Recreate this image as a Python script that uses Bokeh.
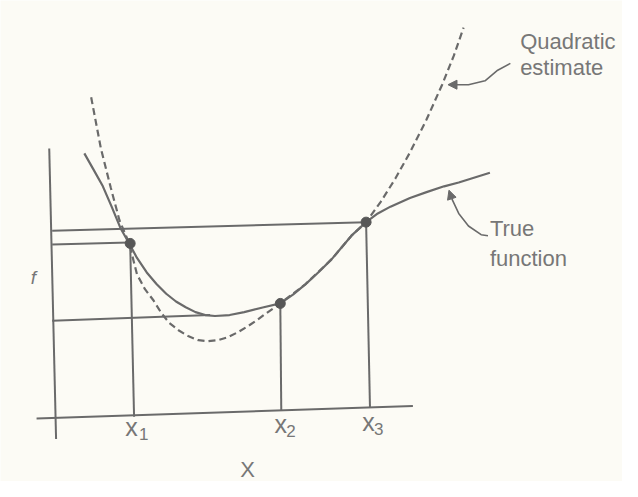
from bokeh.plotting import figure
from bokeh.models import Range1d, ColumnDataSource, Arrow, NormalHead
from bokeh.core.properties import value
from bokeh.embed import file_html
from bokeh.resources import INLINE

# ---- data (reference pixel units, y downward) ----
true_x = [86, 95, 105, 114, 123, 132, 140, 150, 160, 170, 180, 190, 200, 210, 220, 235, 250, 270, 287, 300, 313, 327, 340, 350, 360, 375, 387, 400, 420, 437, 455, 470, 502]
true_f = [158, 174, 192, 213, 235, 251, 266, 281, 293, 303, 311, 317, 322, 325, 326, 325, 322, 317, 313, 304, 293, 280, 267, 255, 243, 229, 220, 213, 204, 198, 192, 188, 178]

quad_x = [93, 103, 113, 122, 132, 140, 148, 157, 165, 173, 183, 193, 203, 213, 223, 233, 243, 253, 262, 270, 287, 313, 340, 360, 375, 390, 405, 420, 437, 453, 465, 475]
quad_f = [100, 153, 193, 227, 251, 283, 298, 310, 323, 333, 341, 347, 351, 352, 351, 348, 343, 337, 331, 325, 313, 293, 267, 243, 229, 208, 184, 157, 123, 87, 57, 28]

pts_x = [133, 287, 375]
pts_f = [251, 313, 229]

axis_xs = [[50, 57], [37, 423]]
axis_ys = [[153, 453], [432, 419]]

guide_xs = [[53, 375], [53, 132], [53, 215], [133, 137], [287, 288], [375, 379]]
guide_ys = [[238, 229], [252, 250], [331, 325], [251, 430], [313, 424], [229, 421]]

quad_arrow_x = [523, 510, 497, 480, 466]
quad_arrow_y = [65, 72, 83, 87, 87]
true_arrow_x = [500, 493, 480, 470, 463]
true_arrow_y = [243, 242, 233, 220, 205]

label_text = ["Quadratic", "estimate", "True", "function"]
label_x = [533, 533, 502, 502]
label_y = [51, 78, 245, 276]

tick_text = ["x", "x", "x"]
tick_x = [128, 281, 371]
tick_y = [450, 447, 445]
sub_text = ["1", "2", "3"]
sub_x = [142, 293, 383]
sub_y = [455, 452, 450]

LINE = "#6a6a6a"
TXT = "#777777"
BG = "#fcfbf5"
FONT = value("Liberation Sans")
DY = 9  # svg text sits lower than its alphabetic anchor; lift it

p = figure(width=622, height=481, output_backend="svg", toolbar_location=None,
           x_range=Range1d(0, 638), y_range=Range1d(497, 0), min_border=0)
p.axis.visible = False
p.grid.visible = False
p.outline_line_color = None
p.background_fill_color = BG
p.border_fill_color = BG

p.multi_line(axis_xs, axis_ys, line_color=LINE, line_width=2)
p.multi_line(guide_xs, guide_ys, line_color=LINE, line_width=2)

p.line(true_x, true_f, line_color=LINE, line_width=2.2)
p.line(quad_x, quad_f, line_color=LINE, line_width=2.2, line_dash="7 4")

p.scatter(pts_x, pts_f, size=10, fill_color="#575757", line_color="#575757")

p.line(quad_arrow_x, quad_arrow_y, line_color=LINE, line_width=1.6)
p.line(true_arrow_x, true_arrow_y, line_color=LINE, line_width=1.6)
p.add_layout(Arrow(x_start=quad_arrow_x[-1], y_start=quad_arrow_y[-1], x_end=459, y_end=87,
                   line_alpha=0, end=NormalHead(size=9, fill_color=LINE, line_color=LINE)))
p.add_layout(Arrow(x_start=true_arrow_x[-1], y_start=true_arrow_y[-1], x_end=460, y_end=196,
                   line_alpha=0, end=NormalHead(size=9, fill_color=LINE, line_color=LINE)))

src = ColumnDataSource(dict(x=label_x, y=[v - DY for v in label_y], t=label_text))
p.text(x="x", y="y", text="t", source=src, text_font=FONT, text_font_size="22px",
       text_color=TXT, text_baseline="alphabetic", text_align="left")

p.text(x=tick_x, y=[v - DY for v in tick_y], text=tick_text, text_font=FONT, text_font_size="25px",
       text_color=TXT, text_baseline="alphabetic", text_align="left")
p.text(x=sub_x, y=[v - DY + 2 for v in sub_y], text=sub_text, text_font=FONT, text_font_size="17px",
       text_color=TXT, text_baseline="alphabetic", text_align="left")

p.text(x=[246], y=[494 - DY], text=["X"], text_font=FONT, text_font_size="22px",
       text_color=TXT, text_baseline="alphabetic", text_align="left")
p.text(x=[31], y=[293 - DY + 2], text=["f"], text_font=FONT, text_font_size="19px",
       text_font_style="italic", text_color=TXT, text_baseline="alphabetic", text_align="left")

open("out.html", "w").write(file_html(p, INLINE))
